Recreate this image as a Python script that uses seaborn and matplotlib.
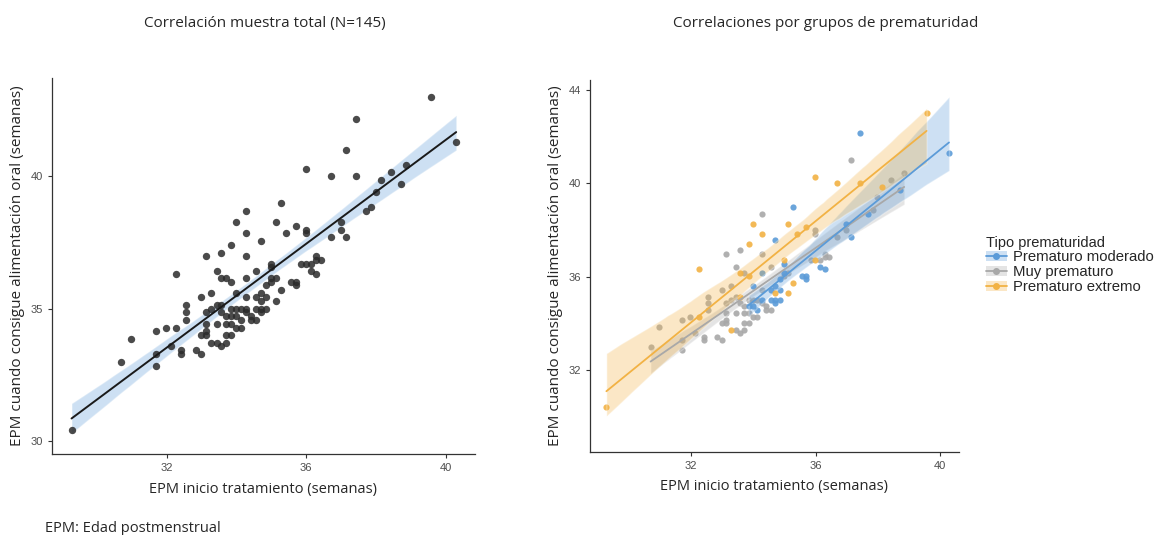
import pandas as pd
import matplotlib
matplotlib.use("Agg")
import matplotlib.pyplot as plt
import seaborn as sns
from matplotlib.lines import Line2D
from matplotlib.patches import Patch

# EPM inicio tratamiento / EPM alimentación oral / grupo (M=moderado, P=muy, E=extremo)
epm_inicio = [29.28, 30.70, 30.98, 31.70, 31.70, 31.70, 31.98, 32.12, 32.27, 32.27,
              32.42, 32.42, 32.55, 32.55, 32.55, 32.85, 32.99, 32.99, 32.99, 33.12,
              33.12, 33.12, 33.12, 33.12, 33.28, 33.28, 33.28, 33.43, 33.43, 33.43,
              33.43, 33.56, 33.56, 33.56, 33.56, 33.56, 33.71, 33.71, 33.71, 33.71,
              33.71, 33.85, 33.85, 33.85, 33.85, 33.85, 33.85, 34.00, 34.00, 34.00,
              34.00, 34.00, 34.13, 34.13, 34.13, 34.28, 34.28, 34.28, 34.28, 34.28,
              34.28, 34.28, 34.42, 34.42, 34.56, 34.56, 34.56, 34.56, 34.70, 34.70,
              34.70, 34.70, 34.70, 34.85, 34.85, 34.85, 34.99, 34.99, 34.99, 34.99,
              35.13, 35.13, 35.13, 35.28, 35.28, 35.42, 35.56, 35.70, 35.70, 35.70,
              35.85, 35.99, 35.99, 35.99, 35.99, 36.13, 36.13, 36.29, 36.29, 36.29,
              36.43, 36.70, 36.70, 36.99, 36.99, 37.13, 37.13, 37.42, 37.42, 37.70,
              37.85, 37.99, 38.13, 38.42, 38.70, 38.85, 39.57, 40.29]
epm_oral = [30.42, 33.00, 33.86, 34.15, 33.29, 32.85, 34.29, 33.58, 36.31, 34.29,
            33.44, 33.29, 35.15, 34.87, 34.58, 33.44, 35.44, 34.00, 33.29, 36.97,
            34.87, 34.44, 34.15, 34.00, 35.59, 35.00, 33.72, 36.42, 35.15, 34.44,
            33.72, 37.12, 36.15, 35.15, 34.87, 33.58, 36.15, 34.73, 34.44, 34.00,
            33.72, 37.41, 36.01, 35.00, 34.73, 34.44, 34.00, 38.27, 35.59, 35.00,
            34.73, 34.29, 35.00, 34.58, 34.29, 38.70, 37.84, 36.97, 36.15, 35.44,
            35.00, 34.87, 34.73, 34.58, 36.42, 35.44, 35.00, 34.58, 37.55, 35.59,
            35.30, 35.00, 34.87, 35.88, 35.44, 35.00, 36.70, 36.56, 36.15, 36.01,
            38.27, 36.15, 35.30, 38.99, 35.72, 37.84, 36.01, 38.13, 36.01, 35.88,
            36.70, 37.98, 37.84, 40.28, 36.70, 36.70, 36.42, 36.97, 36.84, 36.31,
            36.84, 39.99, 37.69, 38.27, 37.98, 41.00, 37.69, 42.14, 39.99, 38.70,
            38.84, 39.42, 39.85, 40.14, 39.71, 40.42, 43.00, 41.29]
grupo = list("EPPPPPPPEE"
             "PPPPPPPPPP"
             "PPPPPPEPPP"
             "PPEEPPPPPP"
             "PEEPMPPEMP"
             "MPPMPPEPMP"
             "MPPPPMMPMM"
             "EMMMMMEMMP"
             "EPEMEEMEMM"
             "PPPEEPMPPM"
             "PEPMPPMMEM"
             "PPEPMPEM")

nombres = {"M": "Prematuro moderado", "P": "Muy prematuro", "E": "Prematuro extremo"}
colores = {"M": "#5B9BD8", "P": "#A8A8A8", "E": "#F2B244"}

df = pd.DataFrame({"inicio": epm_inicio, "oral": epm_oral, "grupo": grupo})

sns.set_style("ticks")
plt.rcParams["font.family"] = ["Liberation Sans", "DejaVu Sans"]

fig = plt.figure(figsize=(11.55, 5.35), dpi=100)
ax1 = fig.add_axes([0.045, 0.151, 0.366, 0.703])
ax2 = fig.add_axes([0.511, 0.155, 0.319, 0.695])

# Panel izquierdo: muestra total
sns.regplot(x="inicio", y="oral", data=df, ax=ax1, scatter=False, color="#5B9BD8",
            seed=0, line_kws={"alpha": 0}, ci=95)
ax1.collections[-1].set_alpha(0.3)
sns.regplot(x="inicio", y="oral", data=df, ax=ax1, ci=None, color="#1a1a1a",
            scatter_kws={"s": 28, "alpha": 0.85, "color": "#2b2b2b", "linewidths": 0},
            line_kws={"lw": 1.4})
ax1.set_xlim(28.72, 40.82)
ax1.set_ylim(29.51, 43.7)
ax1.set_xticks([32, 36, 40])
ax1.set_yticks([30, 35, 40])

# Panel derecho: por grupos
for g in ["P", "M", "E"]:
    sub = df[df["grupo"] == g]
    sns.regplot(x="inicio", y="oral", data=sub, ax=ax2, color=colores[g], seed=0,
                scatter_kws={"s": 20, "alpha": 0.9, "linewidths": 0},
                line_kws={"lw": 1.3})
for coll in ax2.collections:
    if isinstance(coll, matplotlib.collections.PolyCollection):
        coll.set_alpha(0.3)
ax2.set_xlim(28.76, 40.6)
ax2.set_ylim(28.5, 44.4)
ax2.set_xticks([32, 36, 40])
ax2.set_yticks([32, 36, 40, 44])

for ax in (ax1, ax2):
    sns.despine(ax=ax)
    for s in ("left", "bottom"):
        ax.spines[s].set_color("#333333")
        ax.spines[s].set_linewidth(0.9)
    ax.tick_params(labelsize=8, colors="#333333", labelcolor="#4d4d4d", length=3)
    ax.set_xlabel("EPM inicio tratamiento (semanas)", fontsize=10.5,
                  family=["Open Sans", "DejaVu Sans"], labelpad=6)
    ax.set_ylabel("EPM cuando consigue alimentación oral (semanas)", fontsize=11,
                  family=["Open Sans", "DejaVu Sans"], labelpad=4)

fig.text(0.229, 0.956, "Correlación muestra total (N=145)", ha="center", va="center",
         fontsize=11, family=["Open Sans", "DejaVu Sans"])
fig.text(0.715, 0.956, "Correlaciones por grupos de prematuridad", ha="center", va="center",
         fontsize=11, family=["Open Sans", "DejaVu Sans"])
fig.text(0.039, 0.012, "EPM: Edad postmenstrual", ha="left", va="center",
         fontsize=10.5, family=["Open Sans", "DejaVu Sans"])

handles = []
for g in ["M", "P", "E"]:
    handles.append((Patch(facecolor=colores[g], alpha=0.3, edgecolor="none"),
                    Line2D([], [], color=colores[g], lw=1.3, marker="o", markersize=4)))
fig.legend(handles, [nombres[g] for g in ["M", "P", "E"]], title="Tipo prematuridad",
           loc="center left", bbox_to_anchor=(0.842, 0.505), frameon=False,
           fontsize=10.7, title_fontsize=10.5, handlelength=1.4, handletextpad=0.4,
           labelspacing=0.05, alignment="left")

fig.savefig("out.png", dpi=100)
